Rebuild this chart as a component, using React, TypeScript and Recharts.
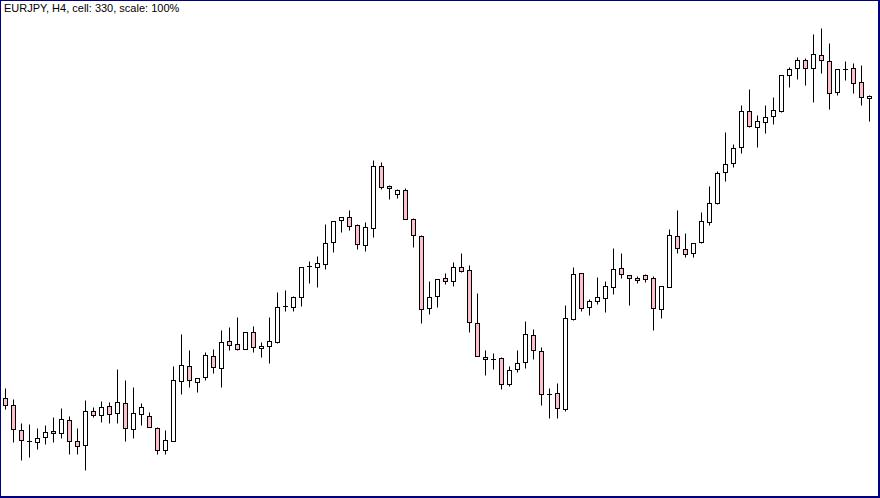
import { ComposedChart, Bar, XAxis, YAxis } from "recharts";

// EURJPY H4 candles, oldest first
const open = [
  161.02, 160.95, 160.7, 160.59, 160.58, 160.63, 160.69, 160.67, 160.8, 160.59,
  160.55, 160.89, 160.85, 160.94, 160.87, 160.97, 160.71, 160.86, 160.84, 160.72,
  160.5, 160.59, 161.19, 161.34, 161.18, 161.23, 161.44, 161.32, 161.59, 161.56,
  161.51, 161.68, 161.52, 161.54, 161.58, 161.94, 161.93, 162.03, 162.34, 162.33,
  162.36, 162.58, 162.8, 162.83, 162.75, 162.55, 162.72, 163.34, 163.14, 163.06,
  163.1, 162.81, 162.64, 161.92, 162.04, 162.22, 162.19, 162.33, 162.3, 161.77,
  161.43, 161.41, 161.42, 161.16, 161.31, 161.38, 161.65, 161.49, 161.06, 161.07,
  160.91, 161.81, 162.27, 161.93, 161.99, 162.02, 162.13, 162.32, 162.25, 162.22,
  162.25, 162.22, 161.91, 162.13, 162.64, 162.51, 162.47, 162.58, 162.78, 162.97,
  163.28, 163.37, 163.53, 163.89, 163.73, 163.78, 163.84, 163.89, 164.25, 164.32,
  164.4, 164.32, 164.45, 164.39, 164.08, 164.31, 164.32, 164.18, 164.02,
];
const high = [
  161.12, 161.01, 160.77, 160.76, 160.72, 160.75, 160.83, 160.92, 160.84, 160.72,
  161.0, 160.93, 160.99, 160.98, 161.31, 161.2, 161.13, 160.97, 160.88, 160.73,
  160.7, 161.34, 161.66, 161.5, 161.22, 161.48, 161.51, 161.7, 161.73, 161.83,
  161.68, 161.74, 161.58, 161.83, 162.08, 162.1, 162.04, 162.33, 162.39, 162.44,
  162.76, 162.79, 162.83, 162.9, 162.76, 162.78, 163.4, 163.38, 163.15, 163.11,
  163.12, 162.82, 162.65, 162.19, 162.21, 162.27, 162.38, 162.47, 162.35, 162.07,
  161.5, 161.47, 161.43, 161.34, 161.5, 161.79, 161.71, 161.53, 161.12, 161.17,
  161.95, 162.33, 162.27, 162.01, 162.23, 162.19, 162.52, 162.47, 162.25, 162.24,
  162.26, 162.24, 162.14, 162.71, 162.9, 162.67, 162.57, 162.88, 163.14, 163.29,
  163.68, 163.56, 163.95, 164.11, 163.85, 163.95, 164.03, 164.25, 164.33, 164.43,
  164.42, 164.66, 164.72, 164.57, 164.31, 164.39, 164.37, 164.35, 164.05,
];
const low = [
  160.91, 160.58, 160.4, 160.43, 160.51, 160.56, 160.58, 160.62, 160.46, 160.46,
  160.3, 160.83, 160.78, 160.77, 160.77, 160.59, 160.62, 160.75, 160.73, 160.46,
  160.46, 160.59, 161.06, 161.13, 161.08, 161.2, 161.27, 161.13, 161.5, 161.5,
  161.51, 161.48, 161.43, 161.37, 161.57, 161.89, 161.89, 161.94, 162.17, 162.13,
  162.31, 162.48, 162.68, 162.7, 162.51, 162.49, 162.63, 163.11, 163.01, 163.02,
  162.81, 162.53, 161.77, 161.86, 161.93, 162.16, 162.14, 162.28, 161.68, 161.44,
  161.25, 161.31, 161.11, 161.14, 161.28, 161.32, 161.41, 160.95, 160.82, 160.82,
  160.89, 161.8, 161.89, 161.85, 161.96, 161.88, 162.06, 162.22, 161.95, 162.17,
  162.18, 161.7, 161.82, 162.13, 162.47, 162.43, 162.43, 162.57, 162.75, 162.96,
  163.19, 163.33, 163.47, 163.73, 163.53, 163.67, 163.76, 163.88, 164.13, 164.21,
  164.15, 163.98, 164.27, 163.91, 164.05, 164.2, 164.07, 163.95, 163.79,
];
const close = [
  160.95, 160.71, 160.6, 160.59, 160.62, 160.68, 160.67, 160.81, 160.59, 160.54,
  160.89, 160.85, 160.93, 160.86, 160.98, 160.72, 160.87, 160.93, 160.73, 160.5,
  160.6, 161.2, 161.35, 161.2, 161.22, 161.45, 161.33, 161.58, 161.55, 161.51,
  161.68, 161.53, 161.54, 161.59, 161.93, 161.94, 162.03, 162.33, 162.34, 162.37,
  162.57, 162.79, 162.83, 162.74, 162.56, 162.73, 163.34, 163.13, 163.12, 163.1,
  162.81, 162.65, 161.91, 162.03, 162.21, 162.19, 162.33, 162.29, 161.78, 161.44,
  161.41, 161.41, 161.16, 161.3, 161.37, 161.66, 161.5, 161.06, 161.06, 160.92,
  161.82, 162.26, 161.92, 161.99, 162.03, 162.14, 162.31, 162.26, 162.22, 162.2,
  162.21, 161.92, 162.14, 162.65, 162.52, 162.46, 162.57, 162.79, 162.97, 163.27,
  163.36, 163.52, 163.89, 163.74, 163.79, 163.83, 163.9, 164.25, 164.31, 164.4,
  164.32, 164.46, 164.4, 164.07, 164.31, 164.31, 164.17, 164.03, 164.04,
];

const data = open.map((o, i) => ({
  bar: i,
  open: o,
  high: high[i],
  low: low[i],
  close: close[i],
  range: [low[i], high[i]],
}));

const Candle = (props: any) => {
  const { x, y, width, height, payload } = props;
  if (x == null || y == null) return null;
  const top = Math.min(y, y + height);
  const bottom = Math.max(y, y + height);
  const span = payload.high - payload.low;
  const toY = (v: number) =>
    span === 0 ? top : top + ((payload.high - v) / span) * (bottom - top);
  const cx = Math.floor(x + width / 2 + 0.01) + 0.5;
  const yHigh = Math.round(top) + 0.5;
  const yLow = Math.round(bottom) + 0.5;
  const yO = Math.round(toY(payload.open));
  const yC = Math.round(toY(payload.close));
  const bodyTop = Math.min(yO, yC) + 0.5;
  const bodyBottom = Math.max(yO, yC) + 0.5;
  const bull = payload.close >= payload.open;
  return (
    <g>
      <line x1={cx} x2={cx} y1={yHigh} y2={yLow} stroke="#000" strokeWidth={1} />
      {bodyBottom - bodyTop < 1 ? (
        <line x1={cx - 2.5} x2={cx + 2.5} y1={bodyTop} y2={bodyTop} stroke="#000" strokeWidth={1} />
      ) : (
        <rect
          x={cx - 2}
          y={bodyTop}
          width={4}
          height={bodyBottom - bodyTop}
          fill={bull ? "#ffffff" : "#ffc0cb"}
          stroke="#000"
          strokeWidth={1}
        />
      )}
    </g>
  );
};

export default function App() {
  return (
    <div
      style={{
        position: "absolute",
        left: 0,
        top: 0,
        width: 880,
        height: 498,
        background: "#fff",
      }}
    >
      <ComposedChart
        width={880}
        height={498}
        data={data}
        margin={{ top: 0, right: 6, bottom: 0, left: 2 }}
      >
        <XAxis dataKey="bar" type="category" hide padding={{ left: 0, right: 0 }} />
        <YAxis hide domain={[160.02, 165.0]} allowDataOverflow />
        <Bar dataKey="range" shape={Candle} isAnimationActive={false} />
      </ComposedChart>
      <div
        style={{
          position: "absolute",
          left: 4,
          top: 2,
          fontFamily: "'Liberation Sans', Arial, sans-serif",
          fontSize: 11,
          color: "#000",
          whiteSpace: "nowrap",
        }}
      >
        EURJPY, H4, cell: 330, scale: 100%
      </div>
      <div
        style={{
          position: "absolute",
          left: 0,
          top: 0,
          width: 880,
          height: 498,
          boxSizing: "border-box",
          borderTop: "1px solid #000080",
          borderLeft: "1px solid #000080",
          borderRight: "2px solid #000080",
          borderBottom: "2px solid #000080",
          pointerEvents: "none",
        }}
      />
    </div>
  );
}
